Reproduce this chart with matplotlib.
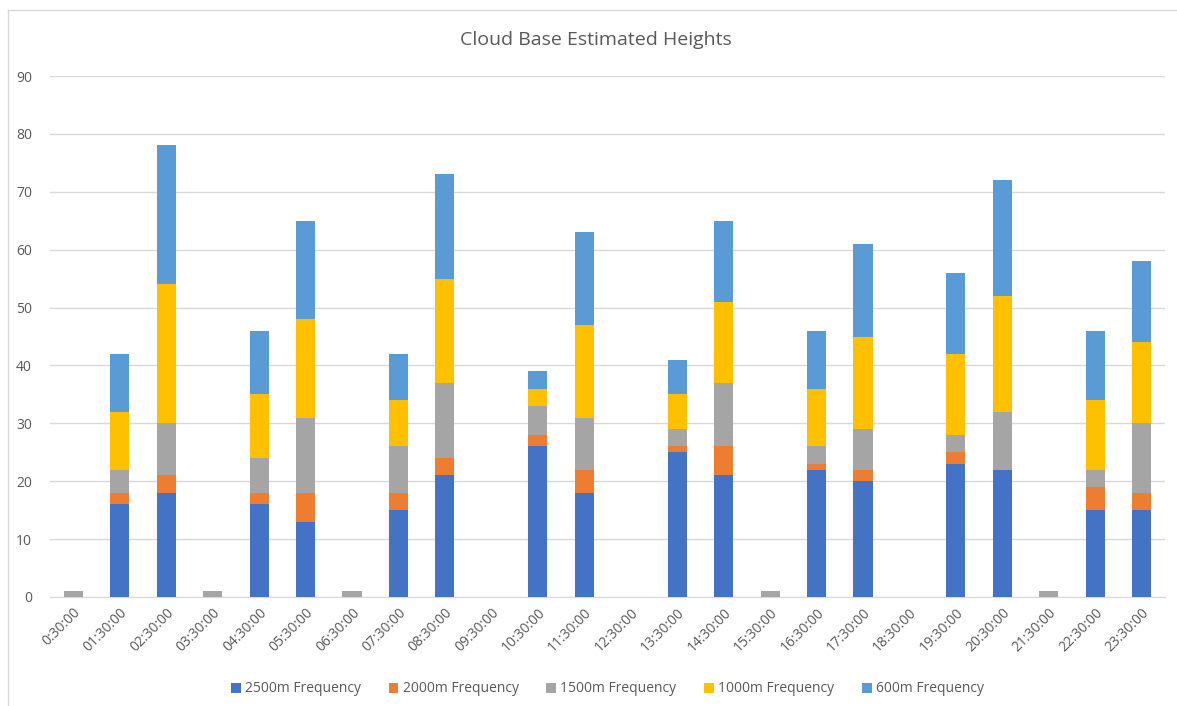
import matplotlib.pyplot as plt
from matplotlib.lines import Line2D
import numpy as np

times = ["0:30:00", "01:30:00", "02:30:00", "03:30:00", "04:30:00", "05:30:00",
         "06:30:00", "07:30:00", "08:30:00", "09:30:00", "10:30:00", "11:30:00",
         "12:30:00", "13:30:00", "14:30:00", "15:30:00", "16:30:00", "17:30:00",
         "18:30:00", "19:30:00", "20:30:00", "21:30:00", "22:30:00", "23:30:00"]

freq_2500 = [0, 16, 18, 0, 16, 13, 0, 15, 21, 0, 26, 18, 0, 25, 21, 0, 22, 20, 0, 23, 22, 0, 15, 15]
freq_2000 = [0, 2, 3, 0, 2, 5, 0, 3, 3, 0, 2, 4, 0, 1, 5, 0, 1, 2, 0, 2, 0, 0, 4, 3]
freq_1500 = [1, 4, 9, 1, 6, 13, 1, 8, 13, 0, 5, 9, 0, 3, 11, 1, 3, 7, 0, 3, 10, 1, 3, 12]
freq_1000 = [0, 10, 24, 0, 11, 17, 0, 8, 18, 0, 3, 16, 0, 6, 14, 0, 10, 16, 0, 14, 20, 0, 12, 14]
freq_600 = [0, 10, 24, 0, 11, 17, 0, 8, 18, 0, 3, 16, 0, 6, 14, 0, 10, 16, 0, 14, 20, 0, 12, 14]

series = [
    ("2500m Frequency", freq_2500, "#4472C4"),
    ("2000m Frequency", freq_2000, "#ED7D31"),
    ("1500m Frequency", freq_1500, "#A5A5A5"),
    ("1000m Frequency", freq_1000, "#FFC000"),
    ("600m Frequency", freq_600, "#5B9BD5"),
]

plt.rcParams['font.family'] = ['Open Sans', 'DejaVu Sans']

fig = plt.figure(figsize=(11.77, 7.06), dpi=100)
ax = fig.add_axes([50 / 1177, 1 - 597 / 706, 1115 / 1177, 521 / 706])

x = np.arange(len(times))
bottom = np.zeros(len(times))
for label, vals, color in series:
    vals = np.array(vals, dtype=float)
    ax.bar(x, vals, width=0.41, bottom=bottom, color=color, label=label,
           linewidth=0, zorder=3)
    bottom += vals

ax.set_xlim(-0.5, len(times) - 0.5)
ax.set_ylim(0, 90)
ax.set_yticks(range(0, 91, 10))
ax.grid(axis='y', color='#d9d9d9', linewidth=1, zorder=0)
for s in ['top', 'right', 'left']:
    ax.spines[s].set_visible(False)
ax.spines['bottom'].set_color('#d9d9d9')
ax.tick_params(axis='both', length=0, colors='#595959', labelsize=10)
ax.tick_params(axis='y', pad=13)
ax.set_xticks(x)
ax.set_xticklabels(times, rotation=45, ha='right', rotation_mode='anchor')
ax.tick_params(axis='x', pad=6)

fig.text(596 / 1177, 1 - 40 / 706, "Cloud Base Estimated Heights",
         ha='center', va='center', fontsize=14, color='#595959')

ax.legend(loc='center', bbox_to_anchor=(0.5, (597 - 689) / 521), ncol=5,
          frameon=False, fontsize=10, handlelength=0.7, handleheight=0.7,
          handletextpad=0.3, columnspacing=2.0, labelcolor='#595959')

fig.add_artist(Line2D([7.5 / 1177, 7.5 / 1177], [0, 1 - 9.5 / 706],
                      transform=fig.transFigure, color='#d9d9d9', linewidth=1))
fig.add_artist(Line2D([7.5 / 1177, 1], [1 - 9.5 / 706, 1 - 9.5 / 706],
                      transform=fig.transFigure, color='#d9d9d9', linewidth=1))

plt.savefig("out.png", dpi=100, facecolor='white')
plt.close()
